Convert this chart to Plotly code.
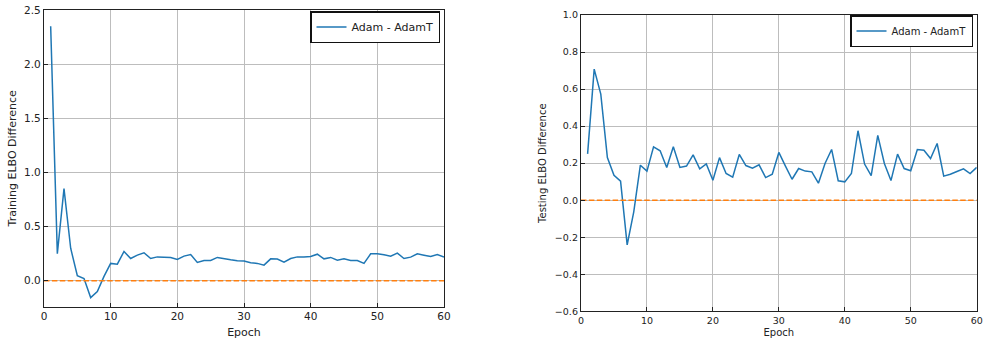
import plotly.graph_objects as go

epochs = list(range(1, 61))

train_diff = [2.35, 0.25, 0.85, 0.30, 0.046, 0.02, -0.156, -0.10, 0.04, 0.16,
              0.153, 0.27, 0.205, 0.236, 0.258, 0.205, 0.22, 0.215, 0.215, 0.196,
              0.227, 0.242, 0.169, 0.187, 0.187, 0.215, 0.202, 0.193, 0.184, 0.181,
              0.166, 0.16, 0.144, 0.202, 0.20, 0.172, 0.205, 0.22, 0.22, 0.224,
              0.245, 0.202, 0.215, 0.19, 0.202, 0.187, 0.187, 0.16, 0.248, 0.248,
              0.239, 0.227, 0.255, 0.205, 0.218, 0.248, 0.236, 0.224, 0.242, 0.218]

test_diff = [0.25, 0.708, 0.573, 0.23, 0.135, 0.103, -0.241, -0.063, 0.189, 0.157,
             0.288, 0.267, 0.177, 0.288, 0.177, 0.184, 0.245, 0.169, 0.196, 0.108,
             0.23, 0.144, 0.124, 0.247, 0.187, 0.173, 0.191, 0.122, 0.14, 0.258,
             0.184, 0.113, 0.171, 0.157, 0.153, 0.092, 0.198, 0.274, 0.105, 0.099,
             0.144, 0.375, 0.195, 0.132, 0.35, 0.198, 0.106, 0.249, 0.171, 0.159,
             0.274, 0.27, 0.225, 0.306, 0.13, 0.14, 0.155, 0.169, 0.144, 0.177]

series_name = "Adam - AdamT"
x_ticks = [0, 10, 20, 30, 40, 50, 60]
train_yticks = [0.0, 0.5, 1.0, 1.5, 2.0, 2.5]
test_yticks = [-0.6, -0.4, -0.2, 0.0, 0.2, 0.4, 0.6, 0.8, 1.0]

W, H = 983, 339
FONT = "DejaVu Sans"
BLUE = "#1f77b4"
ORANGE = "#ff7f0e"
DASH = "5.5px,2.4px"

fig = go.Figure()

fig.add_trace(go.Scatter(x=epochs, y=train_diff, mode="lines", name=series_name,
                         line=dict(color=BLUE, width=1.5), xaxis="x", yaxis="y",
                         legend="legend"))
fig.add_trace(go.Scatter(x=[0, 60], y=[0, 0], mode="lines", showlegend=False,
                         line=dict(color=ORANGE, width=1.5, dash=DASH),
                         xaxis="x", yaxis="y"))
fig.add_trace(go.Scatter(x=epochs, y=test_diff, mode="lines", name=series_name,
                         line=dict(color=BLUE, width=1.5), xaxis="x2", yaxis="y2",
                         legend="legend2"))
fig.add_trace(go.Scatter(x=[0, 60], y=[0, 0], mode="lines", showlegend=False,
                         line=dict(color=ORANGE, width=1.5, dash=DASH),
                         xaxis="x2", yaxis="y2"))

def ax_common(fs):
    return dict(showline=True, linecolor="#222", linewidth=1.3, mirror=True,
                showgrid=True, gridcolor="#bdbdbd", gridwidth=1,
                ticks="inside", ticklen=4, tickcolor="#222", tickwidth=1,
                zeroline=False, automargin=False,
                tickfont=dict(family=FONT, size=fs, color="#222"))

fig.update_layout(
    width=W, height=H,
    margin=dict(l=0, r=0, t=0, b=0),
    paper_bgcolor="white", plot_bgcolor="white",
    font=dict(family=FONT, color="#222"),
    xaxis=dict(domain=[44 / W, 444 / W], range=[0, 60], tickvals=x_ticks,
               title=dict(text="Epoch", font=dict(size=11), standoff=6),
               anchor="y", **ax_common(10.5)),
    yaxis=dict(domain=[1 - 306.7 / H, 1 - 10 / H], range=[-0.24, 2.5],
               tickvals=train_yticks, tickformat=".1f",
               title=dict(text="Training ELBO Difference", font=dict(size=11), standoff=5),
               anchor="x", **ax_common(10.5)),
    xaxis2=dict(domain=[581 / W, 976.7 / W], range=[0, 60], tickvals=x_ticks,
                title=dict(text="Epoch", font=dict(size=10), standoff=4),
                anchor="y2", **ax_common(9.5)),
    yaxis2=dict(domain=[1 - 311.3 / H, 1 - 15 / H], range=[-0.6, 1.0],
                tickvals=test_yticks, tickformat=".1f",
                title=dict(text="Testing ELBO Difference", font=dict(size=10), standoff=6),
                anchor="x2", **ax_common(9.5)),
    legend=dict(x=440 / W, y=1 - 11 / H, xanchor="right", yanchor="top",
                bgcolor="white", bordercolor="#111", borderwidth=1.5,
                font=dict(family=FONT, size=11, color="#222"),
                tracegroupgap=0, itemwidth=30),
    legend2=dict(x=973 / W, y=1 - 15 / H, xanchor="right", yanchor="top",
                 bgcolor="white", bordercolor="#111", borderwidth=1.5,
                 font=dict(family=FONT, size=10, color="#222"),
                 tracegroupgap=0, itemwidth=30),
    showlegend=True,
)

fig.write_html("out.html")
